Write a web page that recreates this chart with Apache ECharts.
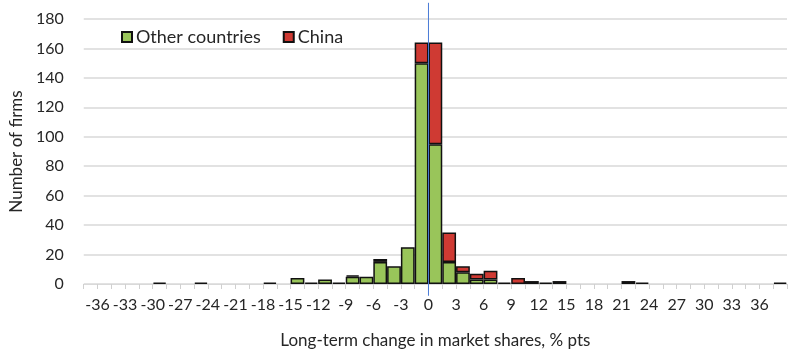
<!DOCTYPE html>
<html>
<head>
    <meta charset="UTF-8">
    <title>Long-term change in market shares</title>
    <script src="https://cdn.jsdelivr.net/npm/echarts@6/dist/echarts.min.js"></script>
    <style>
        body { margin: 0; background: #fff; }
    </style>
</head>
<body>
<div id="main" style="width: 800px;height:354px;"></div>
<script type="text/javascript">
    // bins of 1.5 pts, lower edge of each bin
    var binStart = [-37.5, -36, -34.5, -33, -31.5, -30, -28.5, -27, -25.5, -24, -22.5, -21, -19.5, -18, -16.5,
        -15, -13.5, -12, -10.5, -9, -7.5, -6, -4.5, -3, -1.5, 0, 1.5, 3, 4.5, 6, 7.5, 9, 10.5, 12, 13.5,
        15, 16.5, 18, 19.5, 21, 22.5, 24, 25.5, 27, 28.5, 30, 31.5, 33, 34.5, 36, 37.5];
    var binEnd = 39;
    // number of firms per bin
    var otherCountries = [0, 0, 0, 0, 0, 1, 0, 0, 1, 0, 0, 0, 0, 1, 0,
        4, 1, 3, 1, 5, 5, 15, 12, 25, 150, 95, 15, 8, 3, 3, 1, 0, 0, 1, 0,
        0, 0, 0, 0, 0, 1, 0, 0, 0, 0, 0, 0, 0, 0, 0, 1];
    var china = [0, 0, 0, 0, 0, 0, 0, 0, 0, 0, 0, 0, 0, 0, 0,
        0, 0, 0, 0, 1, 0, 2, 0, 0, 14, 69, 20, 4, 4, 6, 0, 4, 2, 0, 2,
        0, 0, 0, 0, 2, 0, 0, 0, 0, 0, 0, 0, 0, 0, 0, 0];
    var tickLabels = ['-36', '-33', '-30', '-27', '-24', '-21', '-18', '-15', '-12', '-9', '-6', '-3', '0',
        '3', '6', '9', '12', '15', '18', '21', '24', '27', '30', '33', '36'];
    var yTicks = {min: 0, max: 180, interval: 20};
    // vertical reference line at zero, drawn a little past the plot area
    var zeroLine = {x: '0', top: 191, bottom: -8};

    var fontName = 'Lato';
    var textColor = '#262626';

    // empty bins get no bar at all (a zero-height bar would still draw its border)
    function noZero(arr) {
        return arr.map(function (v) { return v === 0 ? '-' : v; });
    }

    var edges = binStart.map(String).concat([String(binEnd)]);

    var myChart = echarts.init(document.getElementById('main'));
    myChart.setOption({
        animation: false,
        textStyle: {fontFamily: fontName},
        legend: {
            data: ['Other countries', 'China'],
            left: 116,
            top: 23,
            itemWidth: 10,
            itemHeight: 10,
            itemGap: 22,
            icon: 'rect',
            textStyle: {fontSize: 18, color: textColor, fontFamily: fontName, padding: [0, 0, 0, -1]}
        },
        grid: {left: 83, right: 13, top: 19, bottom: 70},
        xAxis: [{
            type: 'category',
            data: binStart.map(String),
            position: 'bottom',
            axisLine: {show: true, lineStyle: {color: '#d9d9d9', width: 1}},
            axisTick: {show: false},
            axisLabel: {show: false},
            splitLine: {show: false}
        }, {
            type: 'category',
            data: edges,
            boundaryGap: false,
            position: 'bottom',
            axisLine: {show: false},
            axisTick: {show: true, interval: 0, length: 5, lineStyle: {color: '#d0d0d0'}},
            axisLabel: {
                interval: function (idx, val) { return tickLabels.indexOf(val) >= 0; },
                fontSize: 16,
                color: textColor,
                fontFamily: fontName,
                margin: 13
            },
            splitLine: {show: false},
            name: 'Long-term change in market shares, % pts',
            nameLocation: 'middle',
            nameGap: 48,
            nameTextStyle: {fontSize: 17, color: textColor, fontFamily: fontName}
        }],
        yAxis: {
            type: 'value',
            min: yTicks.min,
            max: yTicks.max,
            interval: yTicks.interval,
            axisLine: {show: false},
            axisTick: {show: false},
            axisLabel: {fontSize: 16, color: textColor, fontFamily: fontName, margin: 20},
            splitLine: {lineStyle: {color: '#d9d9d9', width: 1.5}},
            name: 'Number of firms',
            nameLocation: 'middle',
            nameGap: 56,
            nameTextStyle: {fontSize: 17, color: textColor, fontFamily: fontName}
        },
        series: [{
            name: 'Other countries',
            type: 'bar',
            stack: 'firms',
            xAxisIndex: 0,
            barCategoryGap: 0,
            itemStyle: {color: '#99c55a', borderColor: '#111', borderWidth: 1.5},
            data: noZero(otherCountries)
        }, {
            name: 'China',
            type: 'bar',
            stack: 'firms',
            xAxisIndex: 0,
            barCategoryGap: 0,
            itemStyle: {color: '#cf3a33', borderColor: '#111', borderWidth: 1.5},
            data: noZero(china)
        }, {
            name: 'zero',
            type: 'line',
            xAxisIndex: 1,
            clip: false,
            silent: true,
            symbol: 'none',
            lineStyle: {color: '#4a7bd6', width: 1},
            data: [[zeroLine.x, zeroLine.top], [zeroLine.x, zeroLine.bottom]],
            z: 5
        }]
    });
</script>
</body>
</html>
